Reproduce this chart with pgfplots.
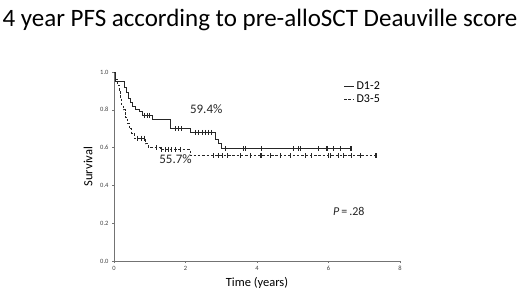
\documentclass[border=0pt]{standalone}
\usepackage{pgfplots}
\pgfplotsset{compat=1.18}
\usepackage{fontspec}
\setmainfont{Carlito}
\begin{document}
\begin{tikzpicture}[x=1pt,y=1pt]
\useasboundingbox (0,0) rectangle (520,293);
\node[font=\fontsize{25}{28}\selectfont, anchor=center, text=black] at (260,273) {4 year PFS according to pre-alloSCT Deauville score};
\begin{axis}[
  at={(114pt,32pt)}, anchor=south west,
  scale only axis, width=286pt, height=189pt,
  xmin=0, xmax=8, ymin=0, ymax=1,
  axis lines*=left,
  axis line style={black!55, line width=0.9pt},
  xtick={0,2,4,6,8}, ytick={0,0.2,0.4,0.6,0.8,1.0},
  yticklabel style={/pgf/number format/fixed,/pgf/number format/precision=1,/pgf/number format/fixed zerofill},
  /pgf/number format/assume math mode=true,
  tick label style={font=\fontsize{6.5}{7}\selectfont, text=black!75},
  tick align=outside, major tick length=2pt,
  tick style={black!55, line width=0.6pt},
  xlabel={Time (years)}, ylabel={Survival},
  every axis x label/.style={at={(axis description cs:0.5,-0.116)}, anchor=center, font=\fontsize{12.5}{14}\selectfont},
  every axis y label/.style={at={(axis description cs:-0.091,0.5)}, anchor=center, rotate=90, font=\fontsize{12.5}{14}\selectfont},
  legend style={at={(axis cs:6.42,0.96)}, anchor=north west, draw=none, fill=none, font=\fontsize{12}{13}\selectfont, row sep=0pt, inner sep=0pt},
  legend cell align=left,
  legend image code/.code={\draw[#1] (0pt,0pt) -- (10pt,0pt);},
  clip=false,
]
\addplot[const plot, black!85, line width=0.9pt] coordinates {
(0,1.0)(0.04,0.95)(0.30,0.92)(0.35,0.89)(0.40,0.86)(0.45,0.84)(0.52,0.82)(0.60,0.80)(0.72,0.79)(0.80,0.77)(1.08,0.75)(1.57,0.70)(2.13,0.68)(2.83,0.645)(2.92,0.62)(3.01,0.594)(6.65,0.594)};
\addlegendentry{D1-2}
\addplot[const plot, black!85, line width=0.9pt, dash pattern=on 2.5pt off 1.8pt] coordinates {
(0,1.0)(0.05,0.96)(0.10,0.93)(0.15,0.90)(0.19,0.86)(0.22,0.82)(0.27,0.80)(0.32,0.76)(0.37,0.73)(0.42,0.70)(0.50,0.675)(0.57,0.65)(0.88,0.62)(0.96,0.60)(1.30,0.59)(2.13,0.557)(7.33,0.557)};
\addlegendentry{D3-5}
\addplot[only marks, mark=|, mark size=2.5pt, black!85, mark options={line width=0.6pt}, forget plot] coordinates {
(0.85,0.77)(0.92,0.77)(0.98,0.77)
(1.72,0.70)(1.80,0.70)(1.87,0.70)
(2.27,0.68)(2.36,0.68)(2.46,0.68)(2.55,0.68)(2.63,0.68)(2.72,0.68)
(3.10,0.594)(3.62,0.594)(3.67,0.594)(4.11,0.594)(5.02,0.594)(5.15,0.594)(5.20,0.594)(5.71,0.594)(5.93,0.594)(5.98,0.594)(6.13,0.594)(6.32,0.594)(6.60,0.594)(6.65,0.594)};
\addplot[only marks, mark=|, mark size=2.5pt, black!85, mark options={line width=0.6pt}, forget plot] coordinates {
(0.65,0.65)(0.75,0.65)(0.84,0.65)
(1.19,0.60)(1.33,0.59)
(1.43,0.59)(1.52,0.59)(1.61,0.59)(1.71,0.59)(1.85,0.59)
(2.77,0.557)(2.91,0.557)(3.02,0.557)(3.16,0.557)(3.52,0.557)(3.80,0.557)(4.08,0.557)(4.13,0.557)(4.36,0.557)(4.64,0.557)(4.92,0.557)(5.34,0.557)(5.53,0.557)(6.00,0.557)(6.04,0.557)(6.27,0.557)(6.41,0.557)(6.65,0.557)(6.88,0.557)(7.30,0.557)(7.33,0.557)};
\node[font=\fontsize{13}{15}\selectfont, text=black!85] at (axis cs:2.58,0.805) {59.4\%};
\node[font=\fontsize{13}{15}\selectfont, text=black!85] at (axis cs:1.72,0.54) {55.7\%};
\node[font=\fontsize{12}{14}\selectfont, text=black!85] at (axis cs:6.57,0.26) {\textit{P}\,=\,.28};
\end{axis}
\end{tikzpicture}
\end{document}
